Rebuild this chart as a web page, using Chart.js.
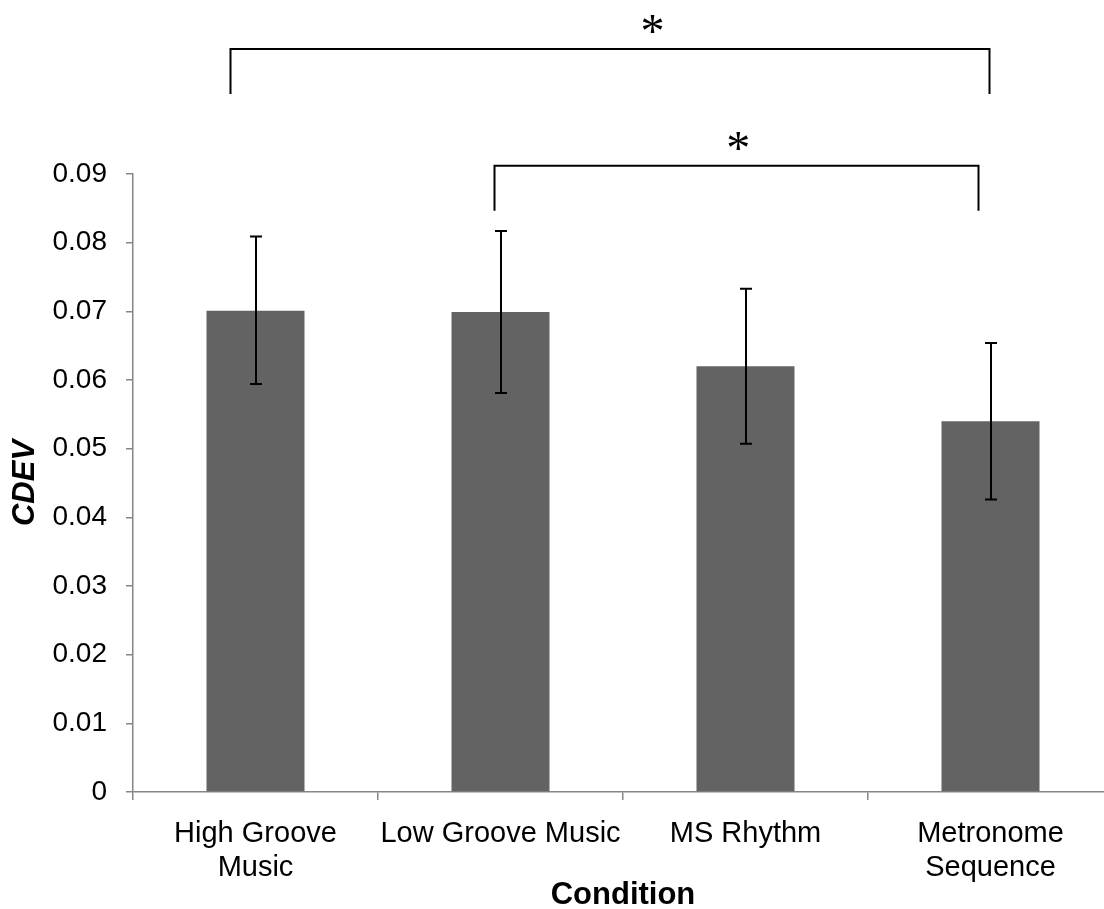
<!DOCTYPE html>
<html>
<head>
<meta charset="utf-8">
<script src="https://cdn.jsdelivr.net/npm/chart.js@4.4.1/dist/chart.umd.min.js"></script>
<style>
  html, body { margin: 0; padding: 0; background: #fff; overflow: hidden; }
  #wrap { width: 1114px; height: 909px; }
</style>
</head>
<body>
<div id="wrap"><canvas id="cdevChart" width="1114" height="909"></canvas></div>
<script>
// Données
const conditions = [['High Groove', 'Music'], 'Low Groove Music', 'MS Rhythm', ['Metronome', 'Sequence']];
const cdevMeans = [0.0701, 0.0699, 0.0620, 0.0540];
const errHigh = [0.0809, 0.0817, 0.0733, 0.0654];
const errLow = [0.0594, 0.0581, 0.0507, 0.0426];
const yTicks = [0, 0.01, 0.02, 0.03, 0.04, 0.05, 0.06, 0.07, 0.08, 0.09];

// Comparaisons significatives (indices de catégories, niveau en unités CDEV)
const sigFrom = [0, 1];
const sigTo = [3, 3];
const sigLevel = [0.1082, 0.0912];
const sigStarAt = [1.62, 1.97];
const sigMark = ['*', '*'];

const FONT = "'Liberation Sans', Arial, sans-serif";
const AXIS_GREY = '#868686';

// Barres d'erreur
const errorBars = {
  id: 'errorBars',
  afterDatasetsDraw(chart) {
    const { ctx, scales: { x, y } } = chart;
    ctx.save();
    ctx.strokeStyle = '#000';
    ctx.lineWidth = 2;
    cdevMeans.forEach((v, i) => {
      const cx = Math.round(x.getPixelForValue(i));
      const top = y.getPixelForValue(errHigh[i]);
      const bot = y.getPixelForValue(errLow[i]);
      ctx.beginPath();
      ctx.moveTo(cx, top); ctx.lineTo(cx, bot);
      ctx.moveTo(cx - 6, top); ctx.lineTo(cx + 6, top);
      ctx.moveTo(cx - 6, bot); ctx.lineTo(cx + 6, bot);
      ctx.stroke();
    });
    ctx.restore();
  }
};

// Crochets de significativité au-dessus du graphique
const sigBrackets = {
  id: 'sigBrackets',
  afterDraw(chart) {
    const { ctx, scales: { x, y } } = chart;
    const shiftL = [-25, -6];
    const shiftR = [-1, -12];
    ctx.save();
    ctx.strokeStyle = '#000';
    ctx.lineWidth = 2;
    sigFrom.forEach((f, k) => {
      const x1 = x.getPixelForValue(f) + shiftL[k];
      const x2 = x.getPixelForValue(sigTo[k]) + shiftR[k];
      const yl = y.getPixelForValue(sigLevel[k]);
      ctx.beginPath();
      ctx.moveTo(x1, yl + 45); ctx.lineTo(x1, yl); ctx.lineTo(x2, yl); ctx.lineTo(x2, yl + 45);
      ctx.stroke();
      // astérisque
      const sx = x.getPixelForValue(0) + (x.getPixelForValue(1) - x.getPixelForValue(0)) * sigStarAt[k];
      ctx.fillStyle = '#000';
      ctx.font = "48px 'Liberation Serif', 'Times New Roman', serif";
      ctx.textAlign = 'center';
      ctx.textBaseline = 'alphabetic';
      ctx.fillText(sigMark[k], sx, yl - 2);
    });
    ctx.restore();
  }
};

const ctx = document.getElementById('cdevChart').getContext('2d');
new Chart(ctx, {
  type: 'bar',
  data: {
    labels: conditions,
    datasets: [{
      label: 'CDEV',
      data: cdevMeans,
      backgroundColor: '#636363',
      borderWidth: 0,
      barPercentage: 0.4,
      categoryPercentage: 1.0
    }]
  },
  options: {
    responsive: false,
    animation: false,
    devicePixelRatio: 1,
    layout: { padding: { top: 174, right: 1, left: 0, bottom: 0 } },
    plugins: {
      legend: { display: false },
      tooltip: { enabled: false }
    },
    scales: {
      x: {
        afterFit: (scale) => { scale.height = 117; },
        grid: { offset: true, drawOnChartArea: false, drawTicks: true, tickLength: 8, color: AXIS_GREY, lineWidth: 1.5 },
        border: { color: AXIS_GREY, width: 1.5 },
        ticks: { color: '#000', font: { family: FONT, size: 29, lineHeight: 1.17 }, padding: 17, maxRotation: 0, autoSkip: false },
        title: { display: true, text: 'Condition', color: '#000', font: { family: FONT, size: 31, weight: 'bold', lineHeight: 0.9 }, padding: { top: 0, bottom: 0 } }
      },
      y: {
        min: 0,
        max: 0.09,
        afterFit: (scale) => { scale.width = 133; },
        afterBuildTicks: (scale) => { scale.ticks = yTicks.map(v => ({ value: v })); },
        grid: { drawOnChartArea: false, drawTicks: true, tickLength: 7, color: AXIS_GREY, lineWidth: 1.5 },
        border: { color: AXIS_GREY, width: 1.5 },
        ticks: {
          color: '#000',
          font: { family: FONT, size: 28 },
          padding: 19,
          callback: (v) => v === 0 ? '0' : v.toFixed(2)
        },
        title: { display: true, text: 'CDEV', color: '#000', font: { family: FONT, size: 31, weight: 'bold', style: 'italic', lineHeight: 1 }, padding: { top: 10, bottom: 0 } }
      }
    }
  },
  plugins: [errorBars, sigBrackets]
});
</script>
</body>
</html>
